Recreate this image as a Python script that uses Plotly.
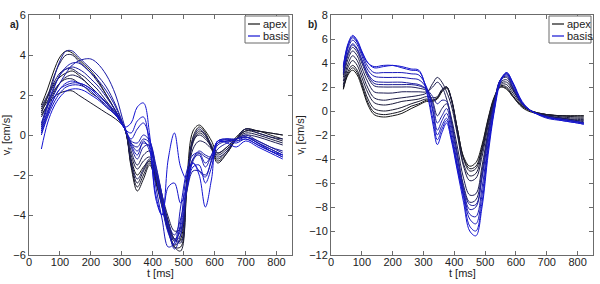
import plotly.graph_objects as go

# ---------------- data: panel a) radial velocity v_r ----------------
t_a = [40, 60, 80, 100, 120, 140, 160, 180, 200, 220, 250, 280, 310, 330, 350, 370,
       390, 410, 430, 450, 470, 490, 510, 530, 550, 570, 590, 610, 640, 670, 700, 740, 780, 820]

vr_apex_1 = [1.5, 2.3, 3.2, 3.9, 4.2, 4.1, 3.8, 3.5, 3.2, 2.8, 2.0, 1.2, 0.3, -1.2, -2.0, -1.6, -1.3, -2.2, -3.4, -4.6, -5.5, -5.2, -2.2, 0.2, 0.5, 0.2, -0.3, -0.9, -0.6, -0.1, 0.3, 0.2, 0.1, 0.0]
vr_apex_2 = [1.3, 1.9, 2.5, 2.9, 3.1, 3.2, 3.0, 2.7, 2.4, 2.1, 1.6, 1.1, 0.3, -1.6, -2.8, -2.2, -1.5, -2.4, -3.6, -4.8, -5.6, -5.6, -2.6, -0.1, 0.4, 0.1, -0.6, -1.3, -0.9, -0.2, 0.2, 0.2, 0.0, -0.2]
vr_apex_3 = [1.0, 1.5, 1.9, 2.1, 2.2, 2.2, 2.0, 1.8, 1.6, 1.4, 1.1, 0.8, 0.3, -1.5, -2.6, -2.0, -1.4, -2.3, -3.5, -4.7, -5.6, -5.8, -2.8, -0.3, 0.2, 0.0, -0.7, -1.4, -0.9, -0.2, 0.3, 0.2, 0.1, 0.0]
vr_apex_4 = [1.2, 1.7, 2.2, 2.6, 2.8, 2.8, 2.6, 2.4, 2.1, 1.9, 1.4, 1.0, 0.3, -1.4, -2.4, -1.8, -1.3, -2.1, -3.2, -4.3, -5.2, -5.3, -2.6, -0.4, 0.1, -0.1, -0.6, -1.2, -0.8, -0.2, 0.2, 0.1, -0.1, -0.3]
vr_apex_5 = [1.1, 1.9, 2.9, 3.6, 4.0, 4.0, 3.7, 3.4, 3.1, 2.7, 2.0, 1.2, 0.3, -1.0, -1.7, -1.3, -1.1, -2.0, -3.2, -4.4, -5.3, -5.0, -2.4, -0.3, 0.0, -0.2, -0.6, -1.0, -0.7, -0.2, 0.1, 0.0, -0.2, -0.4]
vr_apex_6 = [0.9, 1.5, 2.1, 2.6, 2.9, 3.0, 2.9, 2.7, 2.4, 2.1, 1.6, 1.0, 0.3, -0.8, -1.5, -1.0, -0.8, -1.8, -3.0, -4.1, -4.8, -4.7, -2.6, -0.7, -0.3, -0.4, -0.7, -0.9, -0.6, -0.2, 0.0, -0.1, -0.3, -0.5]
vr_apex_7 = [1.4, 2.0, 2.6, 3.1, 3.3, 3.3, 3.1, 2.9, 2.6, 2.3, 1.7, 1.1, 0.3, -1.3, -2.2, -1.7, -1.2, -2.0, -3.2, -4.4, -5.2, -5.4, -2.4, -0.2, 0.3, 0.0, -0.5, -1.1, -0.8, -0.2, 0.3, 0.1, -0.1, -0.2]
vr_basis_1 = [0.5, 1.6, 2.8, 3.7, 4.2, 4.2, 3.9, 3.6, 3.3, 3.0, 2.4, 1.5, 0.3, -0.6, -1.2, -0.6, -0.5, -1.8, -3.2, -4.6, -5.2, -4.8, -2.8, -1.3, -0.9, -1.1, -1.2, -0.7, -0.4, -0.2, 0.0, -0.3, -0.6, -0.8]
vr_basis_2 = [0.4, 1.4, 2.3, 3.0, 3.3, 3.4, 3.3, 3.1, 2.8, 2.5, 1.9, 1.2, 0.3, -0.4, -0.6, -0.2, -0.4, -1.6, -3.0, -4.4, -5.0, -4.2, -2.8, -1.8, -1.8, -2.0, -1.3, -0.4, -0.3, -0.2, -0.1, -0.3, -0.6, -0.9]
vr_basis_3 = [0.3, 1.2, 2.0, 2.6, 3.1, 3.5, 3.7, 3.8, 3.8, 3.6, 3.0, 2.0, 0.4, -0.4, -0.8, -0.4, -0.6, -2.0, -3.5, -4.8, -5.3, -4.6, -2.4, -1.2, -0.8, -1.0, -1.1, -0.5, -0.3, -0.2, -0.1, -0.4, -0.7, -1.0]
vr_basis_4 = [0.6, 1.5, 2.4, 3.0, 3.4, 3.6, 3.6, 3.4, 3.1, 2.8, 2.2, 1.4, 0.3, -0.3, -0.4, 0.0, -0.3, -1.5, -3.0, -4.6, -5.7, -5.0, -2.6, -1.2, -1.0, -1.6, -1.0, -0.4, -0.2, -0.2, -0.1, -0.4, -0.7, -1.0]
vr_basis_5 = [0.1, 1.0, 1.8, 2.3, 2.5, 2.6, 2.6, 2.5, 2.3, 2.0, 1.6, 1.1, 0.3, -0.5, -1.0, -0.3, -0.8, -2.6, -4.2, -5.6, -5.4, -3.6, -1.8, -1.0, -0.9, -1.4, -1.0, -0.3, -0.2, -0.3, -0.1, -0.4, -0.8, -1.1]
vr_basis_6 = [0.0, 0.9, 1.6, 2.1, 2.4, 2.5, 2.5, 2.4, 2.2, 1.9, 1.5, 1.0, 0.3, -0.2, 0.3, 0.6, -0.2, -2.0, -3.6, -4.9, -5.5, -4.4, -2.0, -1.4, -1.8, -2.1, -1.2, -0.3, -0.2, -0.3, -0.2, -0.5, -0.8, -1.1]
vr_basis_7 = [0.2, 1.1, 1.8, 2.3, 2.6, 2.7, 2.6, 2.5, 2.3, 2.1, 1.6, 1.1, 0.3, 0.1, 0.7, 0.9, -0.6, -3.0, -4.0, -2.6, -2.4, -3.4, -2.6, -1.6, -1.5, -2.4, -1.6, -0.4, -0.3, -0.4, -0.2, -0.5, -0.8, -1.0]
vr_basis_8 = [-0.7, 0.6, 1.4, 1.9, 2.2, 2.3, 2.3, 2.2, 2.0, 1.8, 1.4, 1.0, 0.4, 0.6, 1.4, 1.6, 0.0, -3.2, -4.0, -1.2, 0.1, -1.6, -2.2, -1.4, -2.0, -3.6, -2.2, -0.3, -0.4, -0.6, -0.3, -0.6, -0.9, -1.2]

vr_apex = [vr_apex_1, vr_apex_2, vr_apex_3, vr_apex_4, vr_apex_5, vr_apex_6, vr_apex_7]
vr_basis = [vr_basis_1, vr_basis_2, vr_basis_3, vr_basis_4, vr_basis_5, vr_basis_6,
            vr_basis_7, vr_basis_8]

# ---------------- data: panel b) longitudinal velocity v_l ----------------
t_b = [40, 55, 70, 85, 100, 120, 140, 170, 200, 230, 260, 285, 310, 330, 345, 360, 375,
       390, 410, 430, 450, 470, 490, 510, 530, 550, 570, 590, 620, 650, 700, 750, 800, 820]

vl_apex_1 = [1.8, 3.0, 3.4, 3.0, 2.0, 0.5, -0.3, -0.5, -0.4, -0.2, 0.2, 0.5, 0.8, 0.8, 1.0, 1.6, 1.9, 1.0, -1.5, -3.8, -4.6, -4.3, -2.8, -0.6, 1.2, 2.0, 1.8, 1.2, 0.3, -0.1, -0.3, -0.4, -0.4, -0.4]
vl_apex_2 = [1.9, 3.1, 3.6, 3.2, 2.2, 0.7, -0.1, -0.3, -0.2, 0.0, 0.4, 0.6, 0.9, 0.9, 1.1, 1.7, 2.0, 1.0, -1.5, -3.9, -4.8, -4.6, -3.0, -0.7, 1.1, 2.0, 1.9, 1.2, 0.4, 0.0, -0.3, -0.4, -0.4, -0.4]
vl_apex_3 = [2.0, 3.3, 3.8, 3.4, 2.4, 1.0, 0.2, 0.0, 0.1, 0.3, 0.6, 0.8, 1.0, 0.9, 1.1, 1.7, 2.0, 1.1, -1.5, -4.0, -5.0, -4.8, -3.2, -0.8, 1.1, 2.1, 2.0, 1.3, 0.4, 0.0, -0.3, -0.4, -0.5, -0.5]
vl_apex_4 = [2.2, 3.6, 4.2, 3.8, 2.8, 1.5, 0.7, 0.5, 0.6, 0.8, 0.9, 1.0, 1.2, 1.1, 1.2, 1.8, 2.0, 1.0, -1.8, -4.4, -5.4, -5.2, -3.4, -1.0, 1.0, 2.2, 2.2, 1.5, 0.5, 0.0, -0.3, -0.5, -0.6, -0.6]
vl_apex_5 = [2.5, 3.9, 4.6, 4.2, 3.2, 1.9, 1.1, 0.9, 1.0, 1.1, 1.2, 1.3, 1.5, 2.3, 2.8, 2.4, 1.6, 0.5, -2.0, -4.6, -5.8, -5.6, -3.8, -1.2, 0.9, 2.3, 2.4, 1.7, 0.6, 0.0, -0.4, -0.6, -0.7, -0.7]
vl_apex_6 = [2.8, 4.3, 5.0, 4.6, 3.6, 2.4, 1.6, 1.5, 1.5, 1.6, 1.6, 1.6, 1.6, 2.0, 2.4, 2.0, 1.0, -0.5, -3.0, -5.6, -7.0, -6.9, -4.6, -1.6, 0.8, 2.4, 2.6, 1.8, 0.6, 0.0, -0.4, -0.6, -0.8, -0.8]
vl_apex_7 = [3.0, 4.6, 5.3, 4.9, 4.0, 2.8, 2.1, 2.0, 2.0, 2.0, 2.0, 1.9, 1.7, 0.8, -0.4, 0.2, 0.6, -0.8, -3.6, -6.2, -7.6, -7.4, -5.0, -1.8, 0.8, 2.6, 2.8, 1.9, 0.6, 0.0, -0.4, -0.6, -0.8, -0.9]
vl_basis_1 = [3.1, 4.8, 5.5, 5.1, 4.2, 3.0, 2.3, 2.2, 2.2, 2.2, 2.2, 2.1, 1.8, 1.2, 0.6, 0.9, 0.8, -0.8, -3.6, -6.4, -7.8, -7.8, -5.4, -2.0, 0.7, 2.6, 2.9, 2.0, 0.6, 0.0, -0.5, -0.7, -0.9, -1.0]
vl_basis_2 = [3.2, 4.9, 5.6, 5.2, 4.3, 3.1, 2.5, 2.4, 2.4, 2.4, 2.3, 2.2, 1.8, 0.6, -1.0, -0.4, 0.2, -1.2, -4.0, -6.6, -8.2, -8.0, -5.6, -2.2, 0.6, 2.6, 3.0, 2.0, 0.6, 0.0, -0.5, -0.7, -0.9, -1.0]
vl_basis_3 = [3.4, 5.2, 5.9, 5.5, 4.6, 3.4, 2.9, 2.8, 2.8, 2.8, 2.7, 2.6, 1.9, 0.2, -1.6, -0.8, -0.2, -1.6, -4.4, -6.8, -8.6, -8.8, -6.4, -2.6, 0.4, 2.6, 3.1, 2.2, 0.7, 0.0, -0.5, -0.7, -0.9, -1.0]
vl_basis_4 = [3.6, 5.4, 6.1, 5.7, 4.8, 3.7, 3.2, 3.2, 3.2, 3.2, 3.1, 3.0, 2.0, 0.0, -2.0, -1.2, -0.6, -2.0, -4.6, -7.0, -9.0, -9.4, -7.0, -3.0, 0.2, 2.6, 3.2, 2.3, 0.7, 0.0, -0.5, -0.7, -0.9, -1.0]
vl_basis_5 = [3.7, 5.5, 6.2, 5.8, 4.9, 4.0, 3.7, 3.8, 3.8, 3.6, 3.4, 3.3, 1.8, -0.6, -2.4, -1.5, -0.8, -2.2, -4.8, -7.2, -9.6, -10.0, -7.6, -3.2, 0.2, 2.6, 3.1, 2.3, 0.7, 0.0, -0.6, -0.8, -1.0, -1.1]
vl_basis_6 = [3.8, 5.6, 6.3, 5.9, 5.0, 4.0, 3.6, 3.7, 3.8, 3.7, 3.5, 3.4, 1.6, -1.0, -2.8, -1.8, -1.0, -2.4, -5.0, -7.6, -10.0, -10.4, -8.0, -3.6, 0.0, 2.4, 3.2, 2.4, 0.8, 0.0, -0.5, -0.8, -1.0, -1.1]

vl_apex = [vl_apex_1, vl_apex_2, vl_apex_3, vl_apex_4, vl_apex_5, vl_apex_6, vl_apex_7]
vl_basis = [vl_basis_1, vl_basis_2, vl_basis_3, vl_basis_4, vl_basis_5, vl_basis_6]

legend_labels = ["apex", "basis"]
x_ticks = [0, 100, 200, 300, 400, 500, 600, 700, 800]
vr_ticks = [-6, -4, -2, 0, 2, 4, 6]
vl_ticks = [-12, -10, -8, -6, -4, -2, 0, 2, 4, 6, 8]

# ---------------- figure ----------------
W, H = 600, 284
FONT = "Liberation Sans, Arial, sans-serif"
AXC = "#6b6b6b"
TXT = "#222"


def mix(c0, c1, f):
    return "rgb(%d,%d,%d)" % tuple(int(a + (b - a) * f) for a, b in zip(c0, c1))


def apex_color(i, n):
    return mix((22, 22, 22), (30, 30, 95), i / max(n - 1, 1))


def basis_color(i, n):
    return mix((30, 30, 150), (20, 20, 210), i / max(n - 1, 1))


fig = go.Figure()
for xa, ya, tt, apex, basis in [("x", "y", t_a, vr_apex, vr_basis),
                                ("x2", "y2", t_b, vl_apex, vl_basis)]:
    for i, ys in enumerate(apex):
        fig.add_trace(go.Scatter(x=tt, y=ys, mode="lines", xaxis=xa, yaxis=ya,
                                 line=dict(color=apex_color(i, len(apex)), width=1,
                                           shape="spline", smoothing=1.0),
                                 showlegend=False, hoverinfo="skip"))
    for i, ys in enumerate(basis):
        fig.add_trace(go.Scatter(x=tt, y=ys, mode="lines", xaxis=xa, yaxis=ya,
                                 line=dict(color=basis_color(i, len(basis)), width=1,
                                           shape="spline", smoothing=1.0),
                                 showlegend=False, hoverinfo="skip"))

# pixel geometry of the two axes boxes
left_box = (29, 292)
right_box = (331, 593)
top_px, bot_px = 15, 255
ydom = [(H - bot_px) / H, (H - top_px) / H]

axis_common = dict(showline=True, linecolor=AXC, linewidth=1, mirror="ticks",
                   ticks="inside", ticklen=4, tickcolor=AXC, showgrid=False,
                   zeroline=False, tickfont=dict(family=FONT, size=11, color=TXT),
                   automargin=False)

fig.update_layout(
    width=W, height=H, margin=dict(l=0, r=0, t=0, b=0),
    paper_bgcolor="white", plot_bgcolor="white", showlegend=False,
    xaxis=dict(domain=[left_box[0] / W, left_box[1] / W], range=[0, 850],
               tickvals=x_ticks, anchor="y", ticklabelstandoff=-3, **axis_common),
    yaxis=dict(domain=ydom, range=[-6, 6], tickvals=vr_ticks, anchor="x",
               title=dict(text="v<sub>r</sub> [cm/s]", font=dict(family=FONT, size=11, color=TXT), standoff=2),
               **axis_common),
    xaxis2=dict(domain=[right_box[0] / W, right_box[1] / W], range=[0, 850],
                tickvals=x_ticks, anchor="y2", ticklabelstandoff=-3, **axis_common),
    yaxis2=dict(domain=ydom, range=[-12, 8], tickvals=vl_ticks, anchor="x2",
                title=dict(text="v<sub>l</sub> [cm/s]", font=dict(family=FONT, size=11, color=TXT), standoff=2),
                **axis_common),
)

# x-axis titles (placed tight under the tick labels, as in the reference)
for (bx0, bx1) in [left_box, right_box]:
    fig.add_annotation(x=(bx0 + bx1) / 2 / W, y=1 - 273 / H, xref="paper", yref="paper",
                       text="t [ms]", showarrow=False, xanchor="center", yanchor="middle",
                       font=dict(family=FONT, size=11, color=TXT))

# panel labels
fig.add_annotation(x=8 / W, y=1 - 24 / H, xref="paper", yref="paper", text="<b>a)</b>",
                   showarrow=False, xanchor="left", yanchor="middle",
                   font=dict(family=FONT, size=10, color=TXT))
fig.add_annotation(x=306 / W, y=1 - 24 / H, xref="paper", yref="paper", text="<b>b)</b>",
                   showarrow=False, xanchor="left", yanchor="middle",
                   font=dict(family=FONT, size=10, color=TXT))

# legend boxes (drawn in paper space)
legend_colors = ["rgb(22,22,22)", "rgb(20,20,210)"]
for (bx0, bx1) in [(245, 289), (549, 591)]:
    fig.add_shape(type="rect", xref="paper", yref="paper",
                  x0=bx0 / W, x1=bx1 / W, y0=1 - 43 / H, y1=1 - 16 / H,
                  line=dict(color=AXC, width=1), fillcolor="white", layer="above")
    for k, lab in enumerate(legend_labels):
        yy = 1 - (24 + 12 * k) / H
        fig.add_shape(type="line", xref="paper", yref="paper",
                      x0=(bx0 + 3) / W, x1=(bx0 + 15) / W, y0=yy, y1=yy,
                      line=dict(color=legend_colors[k], width=1.2), layer="above")
        fig.add_annotation(x=(bx0 + 16) / W, y=yy, xref="paper", yref="paper",
                           text=lab, showarrow=False, xanchor="left", yanchor="middle",
                           font=dict(family=FONT, size=11, color=TXT))

fig.write_html("out.html", config={"displayModeBar": False},
               post_script="document.body.style.margin='0';document.body.style.overflow='hidden';")
